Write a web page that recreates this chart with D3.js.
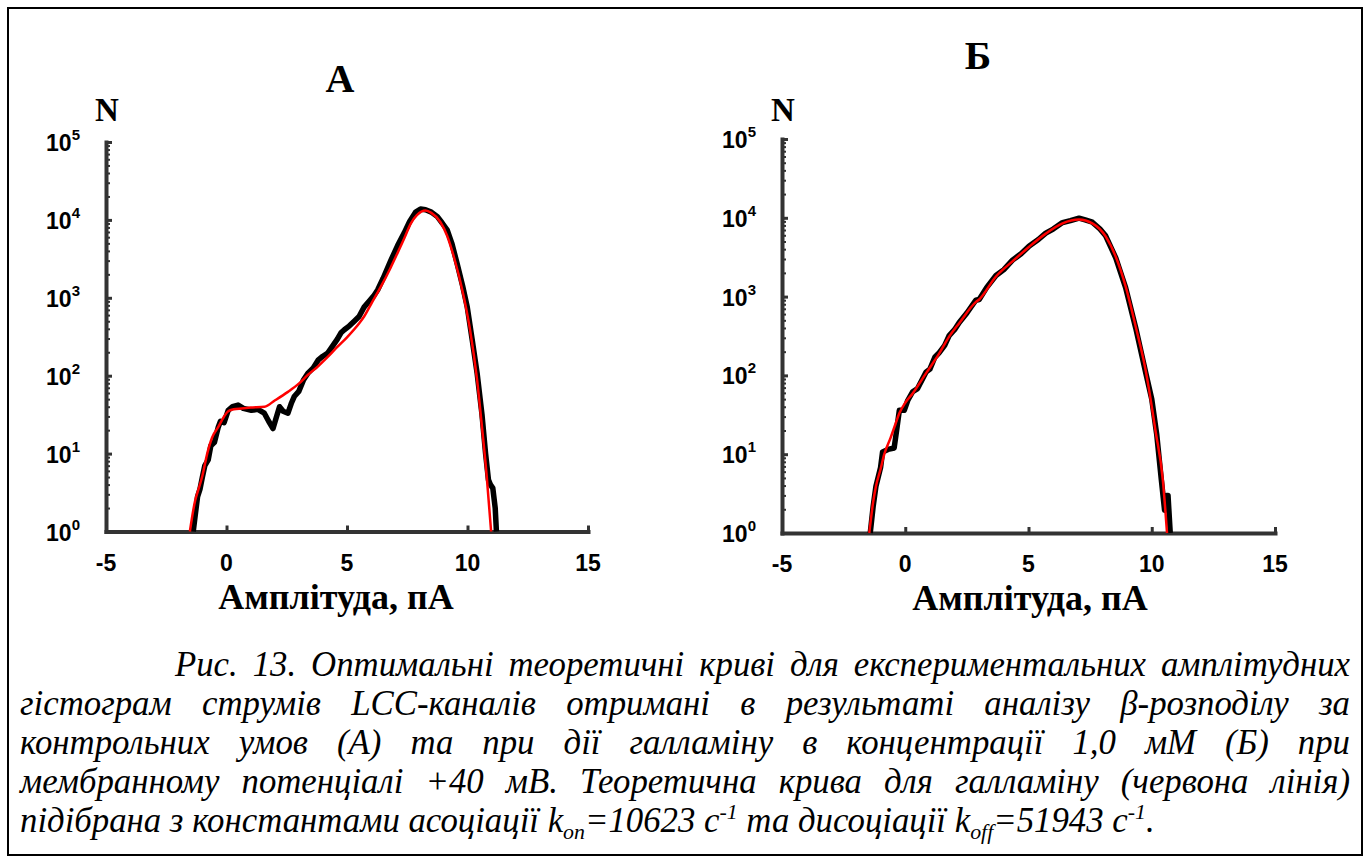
<!DOCTYPE html>
<html><head><meta charset="utf-8">
<script src="https://cdn.jsdelivr.net/npm/d3@7"></script>
<style>
body{margin:0;background:#fff}
.serif{font-family:"Liberation Serif","DejaVu Serif",serif}
.sans{font-family:"Liberation Sans",Arial,sans-serif}
</style>
</head><body>
<svg id="c" width="1371" height="864"></svg>
<script>
// ---------- data ----------
const xTicks = [-5, 0, 5, 10, 15];
const yTickExps = [0, 1, 2, 3, 4, 5];
const panelTitles = ["А", "Б"];
const xTitle = "Амплітуда, пА";
const yTitle = "N";

// Panel A – experimental histogram (black)
const ampA_exp = [-1.38,-1.3,-1.2,-1.1,-1.0,-0.9,-0.76,-0.65,-0.5,-0.34,-0.25,-0.1,0.07,0.25,0.48,0.7,1.03,1.3,1.57,1.75,1.93,2.05,2.2,2.35,2.55,2.7,2.81,3.0,3.2,3.37,3.6,3.8,4.0,4.2,4.4,4.6,4.75,4.89,5.1,5.3,5.5,5.71,5.9,6.1,6.27,6.5,6.82,7.1,7.37,7.6,7.85,8.05,8.26,8.5,8.75,8.95,9.16,9.35,9.57,9.8,9.99,10.2,10.4,10.6,10.75,10.87,10.95,11.05,11.15,11.2];
const cntA_exp = [1,1.6,2.8,3.5,5,7,8.3,12.6,14,22,26,25,36,40,42,38,36,37,33,26,21,28,40,35,33,45,54,63,89,107,126,158,178,195,240,295,355,389,437,501,575,759,891,1050,1260,1780,3020,4680,6760,9550,12600,13800,13500,12600,11000,9120,7410,5010,2750,1410,759,282,107,32,10,4.6,4,3.6,2,1];
// Panel A – theoretical curve (red)
const ampA_fit = [-1.52,-1.3,-1.2,-1.0,-0.8,-0.6,-0.34,-0.1,0.07,0.3,0.62,1.0,1.58,2.0,2.55,3.0,3.37,3.8,4.2,4.6,5.02,5.5,5.71,6.0,6.4,6.8,7.09,7.4,7.64,7.9,8.26,8.5,8.88,9.15,9.43,9.85,10.1,10.4,10.6,10.8,10.98];
const cntA_fit = [1,2.5,3.2,5.2,10,16,22,30,35,37,38,39,40,48,62,79,102,132,174,234,316,468,575,832,1380,2400,3720,6030,8910,11500,13200,12300,9330,6310,3390,1020,398,87,22,5,1];

// Panel B – experimental histogram (black)
const ampB_exp = [-1.42,-1.3,-1.19,-1.0,-0.92,-0.7,-0.45,-0.35,-0.24,-0.04,0.1,0.3,0.5,0.84,1.0,1.2,1.38,1.6,1.78,2.0,2.19,2.5,2.86,3.0,3.3,3.68,4.0,4.35,4.7,5.03,5.4,5.7,6.0,6.38,6.7,7.05,7.3,7.59,7.9,8.13,8.54,8.94,9.35,9.75,10.0,10.2,10.39,10.52,10.6,10.66,10.75];
const cntB_exp = [1,2.2,3.9,6.8,10.7,11.5,12,20,36,36,48,62,68,110,120,170,195,240,320,380,470,620,900,920,1300,1850,2200,2900,3500,4400,5300,6400,7200,8700,9200,9900,9400,8800,7200,5900,3100,1300,400,110,50,18,4.7,1.95,3.0,3.0,1];
// Panel B – theoretical curve (red)
const ampB_fit = [-1.46,-1.3,-1.19,-1.0,-0.85,-0.6,-0.4,-0.24,0.0,0.3,0.84,1.38,1.78,2.19,2.86,3.0,3.68,4.35,5.03,5.7,6.38,7.05,7.59,8.13,8.54,8.94,9.35,9.75,9.89,10.15,10.45,10.62];
const cntB_fit = [1,2.5,3.9,6.5,10,16,24,33,45,59,106,190,310,460,850,920,1800,2800,4300,6300,8500,9500,8500,5800,3200,1350,415,117,66,20,4.7,1];

const captionLines = [
  "Рис. 13. Оптимальні теоретичні криві для експериментальних  амплітудних",
  "гістограм струмів LCC-каналів  отримані в результаті аналізу β-розподілу за",
  "контрольних умов (А) та при дії галламіну в концентрації 1,0 мМ (Б) при",
  "мембранному потенціалі +40 мВ. Теоретична крива для галламіну (червона лінія)"
];

// ---------- drawing ----------
const svg = d3.select("#c");
svg.append("rect").attr("x",8).attr("y",8).attr("width",1354).attr("height",847)
  .attr("fill","none").attr("stroke","#000").attr("stroke-width",2);

const panels = [
  {title: panelTitles[0], left:106, right:588, top:142, bottom:531.5, titleX:340, titleY:92, xTitleX:336,
   exp:[ampA_exp,cntA_exp], fit:[ampA_fit,cntA_fit]},
  {title: panelTitles[1], left:782, right:1275, top:139, bottom:533, titleX:978, titleY:69, xTitleX:1030,
   exp:[ampB_exp,cntB_exp], fit:[ampB_fit,cntB_fit]}
];
const axisColor = "#333";

panels.forEach(p => {
  const g = svg.append("g");
  const x = d3.scaleLinear().domain([-5,15]).range([p.left,p.right]);
  const y = d3.scaleLog().domain([1,1e5]).range([p.bottom,p.top]);

  const minors = [];
  for (let e=0;e<5;e++) for (let m=2;m<=9;m++) minors.push(m*Math.pow(10,e));
  const yMinor = g.append("g").attr("transform",`translate(${p.left},0)`)
    .call(d3.axisLeft(y).tickValues(minors).tickSize(-4).tickSizeOuter(0).tickFormat(""));
  yMinor.select(".domain").remove();
  yMinor.selectAll("line").attr("stroke",axisColor).attr("stroke-width",2);
  const yMajor = g.append("g").attr("transform",`translate(${p.left},0)`)
    .call(d3.axisLeft(y).tickValues(yTickExps.map(e=>Math.pow(10,e))).tickSize(-6).tickSizeOuter(0).tickFormat(""));
  yMajor.select(".domain").attr("stroke",axisColor).attr("stroke-width",4).attr("stroke-linecap","square");
  yMajor.selectAll("line").attr("stroke",axisColor).attr("stroke-width",3);

  yTickExps.forEach(e => {
    const t = g.append("text").attr("class","sans").attr("x",p.left-26).attr("y",y(Math.pow(10,e))+9)
      .attr("text-anchor","end").attr("font-weight","bold").attr("font-size",23).attr("fill","#000");
    t.append("tspan").text("10");
    t.append("tspan").attr("dy",-11).attr("font-size",15).text(e);
  });

  const xAx = g.append("g").attr("transform",`translate(0,${p.bottom})`)
    .call(d3.axisBottom(x).tickValues(xTicks).tickSize(-6).tickSizeOuter(0).tickFormat(""));
  xAx.select(".domain").attr("stroke",axisColor).attr("stroke-width",4).attr("stroke-linecap","square");
  xAx.selectAll("line").attr("stroke",axisColor).attr("stroke-width",3);
  xTicks.forEach(v => {
    g.append("text").attr("class","sans").attr("x",x(v)).attr("y",p.bottom+39).attr("text-anchor","middle")
      .attr("font-weight","bold").attr("font-size",23).text(v);
  });

  g.append("text").attr("class","serif").attr("x",p.titleX).attr("y",p.titleY).attr("text-anchor","middle")
    .attr("font-weight","bold").attr("font-size",40).text(p.title);
  g.append("text").attr("class","serif").attr("x",p.left+1).attr("y",121).attr("text-anchor","middle")
    .attr("font-weight","bold").attr("font-size",33).text(yTitle);
  g.append("text").attr("class","serif").attr("x",p.xTitleX).attr("y",p.bottom+77).attr("text-anchor","middle")
    .attr("font-weight","bold").attr("font-size",36).text(xTitle);

  const zip = (a,b) => a.map((v,i)=>[v,b[i]]);
  const line = d3.line().x(d=>x(d[0])).y(d=>y(d[1]));
  g.append("path").datum(zip(p.exp[0],p.exp[1])).attr("d",line)
    .attr("fill","none").attr("stroke","#000").attr("stroke-width",5.5)
    .attr("stroke-linejoin","round").attr("stroke-linecap","butt");
  g.append("path").datum(zip(p.fit[0],p.fit[1])).attr("d",line.curve(d3.curveMonotoneX))
    .attr("fill","none").attr("stroke","#ff0000").attr("stroke-width",2.5);
});

// ---------- caption ----------
const cap = svg.append("g").attr("class","serif")
  .attr("font-style","italic").attr("font-size",35).attr("fill","#000");
const lineYs = [676, 715, 754, 793, 832];
const capLeft = 20, capRight = 1350;
const starts = captionLines.map((_,i) => i===0 ? 175 : capLeft);

// calibrate horizontal scale: justified lines must fit with normal spacing,
// last line should end near x=1118
const fitScales = captionLines.map((ln,i) => {
  const pr = cap.append("text").text(ln);
  const w = pr.node().getComputedTextLength();
  pr.remove();
  return (capRight - starts[i] - 6) / w;
});
const sxJust = d3.min(fitScales);

const last = cap.append("text").attr("x",0).attr("y",0);
last.append("tspan").text("підібрана з константами асоціації k");
last.append("tspan").attr("font-size",22).attr("dy",7).text("on");
last.append("tspan").attr("dy",-7).text("=10623 с");
last.append("tspan").attr("font-size",22).attr("dy",-13).text("-1");
last.append("tspan").attr("dy",13).text(" та дисоціації k");
last.append("tspan").attr("font-size",22).attr("dy",7).text("off");
last.append("tspan").attr("dy",-7).text("=51943 с");
last.append("tspan").attr("font-size",22).attr("dy",-13).text("-1");
last.append("tspan").attr("dy",13).text(".");
const sxLast = 1098 / last.node().getComputedTextLength();
const sx = Math.min(sxJust, (sxJust + sxLast) / 2);
last.attr("transform",`translate(${capLeft},${lineYs[4]}) scale(${sx},1)`);

captionLines.forEach((ln,i) => {
  const start = starts[i];
  const words = ln.split(/\s+/);
  const tg = cap.append("g").attr("transform",`translate(${start},${lineYs[i]}) scale(${sx},1)`);
  const nodes = words.map(w => tg.append("text").attr("x",0).text(w));
  const widths = nodes.map(n => n.node().getComputedTextLength());
  const avail = (capRight - start)/sx;
  const total = d3.sum(widths);
  const gap = (avail - total)/(words.length-1);
  let cx = 0;
  nodes.forEach((n,k) => { n.attr("x",cx); cx += widths[k] + gap; });
});
</script>
</body></html>
